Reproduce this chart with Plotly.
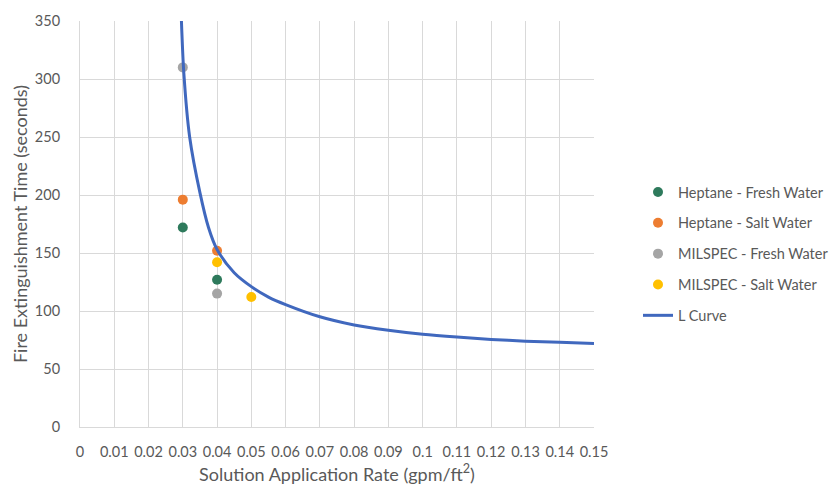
import plotly.graph_objects as go

# Data
hf_x = [0.03, 0.04]
hf_y = [172, 127]
hs_x = [0.03, 0.04]
hs_y = [196, 152]
mf_x = [0.03, 0.04]
mf_y = [310, 115]
ms_x = [0.04, 0.05]
ms_y = [142, 112]

curve_x = [0.0296, 0.0303, 0.032, 0.035, 0.0375, 0.04, 0.045, 0.05, 0.055,
           0.06, 0.07, 0.08, 0.09, 0.10, 0.11, 0.12, 0.13, 0.14, 0.15]
curve_y = [350, 305, 250, 202, 172, 153, 133, 121, 112,
           105.5, 95, 88, 83.5, 80, 77.5, 75.5, 74, 73, 72]

x_ticks = [0, 0.01, 0.02, 0.03, 0.04, 0.05, 0.06, 0.07, 0.08, 0.09, 0.1,
           0.11, 0.12, 0.13, 0.14, 0.15]
x_tick_text = ["0", "0.01", "0.02", "0.03", "0.04", "0.05", "0.06", "0.07",
               "0.08", "0.09", "0.1", "0.11", "0.12", "0.13", "0.14", "0.15"]
y_ticks = [0, 50, 100, 150, 200, 250, 300, 350]

FONT = "Lato, 'Open Sans', sans-serif"
GREY = "#595959"

fig = go.Figure()
series = [
    ("Heptane - Fresh Water", hf_x, hf_y, "#2E7A5C"),
    ("Heptane - Salt Water", hs_x, hs_y, "#ED7D31"),
    ("MILSPEC - Fresh Water", mf_x, mf_y, "#A5A5A5"),
    ("MILSPEC - Salt Water", ms_x, ms_y, "#FFC000"),
]
for i, (name, xs, ys, col) in enumerate(series):
    fig.add_trace(go.Scatter(
        x=xs, y=ys, mode="markers", name=name, legendgroup=f"g{i}",
        marker=dict(size=10, color=col, line=dict(width=0)),
    ))
fig.add_trace(go.Scatter(
    x=curve_x, y=curve_y, mode="lines", name="L Curve", legendgroup="g4",
    line=dict(color="#4068BE", width=3, shape="spline", smoothing=0.8),
))

fig.update_layout(
    width=835, height=498,
    margin=dict(l=80, r=241, t=13, b=71),
    paper_bgcolor="white", plot_bgcolor="white",
    font=dict(family=FONT, color=GREY, size=14),
    showlegend=True,
    legend=dict(
        xref="container", yref="container",
        x=638 / 835, y=1 - 176 / 498, xanchor="left", yanchor="top",
        font=dict(size=14.5, color=GREY),
        tracegroupgap=9, itemwidth=30,
        bgcolor="rgba(0,0,0,0)",
    ),
    xaxis=dict(
        range=[0, 0.15], tickvals=x_ticks, ticktext=x_tick_text,
        showgrid=True, gridcolor="#D9D9D9", gridwidth=1,
        zeroline=False, showline=True, linecolor="#D9D9D9",
        ticks="", tickfont=dict(size=14.5, color=GREY), ticklabelstandoff=12,
        tickangle=0,
        title=dict(text="Solution Application Rate (gpm/ft<sup>2</sup>)",
                   font=dict(size=18, color=GREY), standoff=8),
    ),
    yaxis=dict(
        range=[0, 350], tickvals=y_ticks,
        showgrid=True, gridcolor="#D9D9D9", gridwidth=1,
        zeroline=False, showline=True, linecolor="#D9D9D9",
        ticks="", tickfont=dict(size=14.5, color=GREY), ticklabelstandoff=16,
        title=dict(text="Fire Extinguishment Time (seconds)",
                   font=dict(size=18, color=GREY), standoff=2),
    ),
)

fig.write_html("out.html")
